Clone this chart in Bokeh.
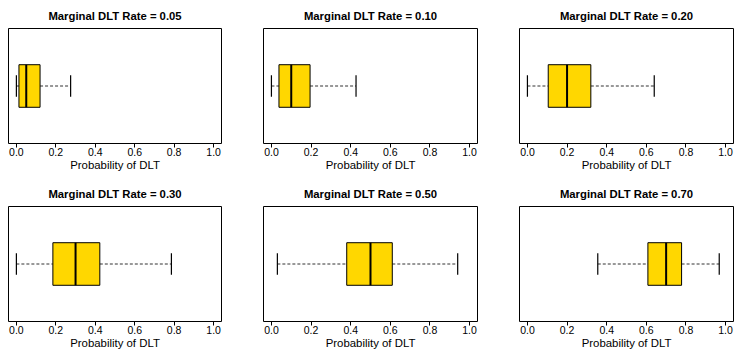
from bokeh.plotting import figure
from bokeh.layouts import column, row
from bokeh.models import Range1d, FixedTicker
from bokeh.embed import file_html
from bokeh.resources import INLINE

# ---- data ----
rates = ["0.05", "0.10", "0.20", "0.30", "0.50", "0.70"]
whisker_low = [0.0, 0.0, 0.0, 0.0, 0.03, 0.355]
q1 = [0.013, 0.038, 0.105, 0.185, 0.38, 0.608]
median = [0.05, 0.10, 0.20, 0.30, 0.50, 0.70]
q3 = [0.12, 0.195, 0.32, 0.423, 0.61, 0.778]
whisker_high = [0.275, 0.427, 0.64, 0.786, 0.94, 0.968]
tick_values = [0.0, 0.2, 0.4, 0.6, 0.8, 1.0]
tick_labels = ["0.0", "0.2", "0.4", "0.6", "0.8", "1.0"]
x_label = "Probability of DLT"

FONT = "Liberation Sans"
BOX_FILL = "#FFD700"

# layout (page has no margin in Bokeh's template)
frame_w = [213, 214, 214]
left_b = [8, 0, 0]
right_b = [42, 42, 2]
top_b = [28, 28]
bottom_b = [35, 28]
FRAME_H = 115


def make_panel(i):
    r, c = divmod(i, 3)
    p = figure(
        frame_width=frame_w[c],
        frame_height=FRAME_H,
        x_range=Range1d(-0.04, 1.04),
        y_range=Range1d(0.46, 1.54),
        y_axis_location=None,
        output_backend="svg",
        toolbar_location=None,
        min_border_left=left_b[c],
        min_border_right=right_b[c],
        min_border_top=top_b[r],
        min_border_bottom=bottom_b[r],
        title="Marginal DLT Rate = " + rates[i],
    )
    p.title.text_font = FONT
    p.title.text_font_size = "11.3px"
    p.title.text_font_style = "bold"
    p.title.text_color = "black"
    p.title.align = "center"
    p.title.standoff = 13
    p.title.offset = 0

    p.grid.visible = False
    p.outline_line_color = "black"
    p.outline_line_width = 1
    p.outline_line_alpha = 1
    p.background_fill_color = "white"
    p.border_fill_color = "white"

    ax = p.xaxis[0]
    ax.ticker = FixedTicker(ticks=tick_values)
    ax.major_label_overrides = {v: s for v, s in zip(tick_values, tick_labels)}
    ax.minor_tick_line_color = None
    ax.major_tick_out = 4
    ax.major_tick_in = 0
    ax.major_tick_line_color = "black"
    ax.axis_line_color = None
    ax.major_label_standoff = 0
    ax.major_label_text_font = FONT
    ax.major_label_text_font_size = "10.5px"
    ax.major_label_text_color = "black"
    ax.axis_label = x_label
    ax.axis_label_text_font = FONT
    ax.axis_label_text_font_size = "11.4px"
    ax.axis_label_text_font_style = "normal"
    ax.axis_label_text_color = "black"
    ax.axis_label_standoff = 0

    # whiskers (dashed)
    p.segment(x0=[whisker_low[i], q3[i]], y0=[1, 1], x1=[q1[i], whisker_high[i]], y1=[1, 1],
              line_color="#333333", line_width=1, line_dash="3 2")
    # staples
    p.segment(x0=[whisker_low[i], whisker_high[i]], y0=[0.9, 0.9],
              x1=[whisker_low[i], whisker_high[i]], y1=[1.1, 1.1],
              line_color="black", line_width=1.2)
    # box
    p.quad(left=[q1[i]], right=[q3[i]], bottom=[0.8], top=[1.2],
           fill_color=BOX_FILL, line_color="black", line_width=1)
    # median
    p.segment(x0=[median[i]], y0=[0.8], x1=[median[i]], y1=[1.2],
              line_color="black", line_width=2)
    return p


panels = [make_panel(i) for i in range(6)]
layout = column(row(*panels[:3]), row(*panels[3:]))

open("out.html", "w").write(file_html(layout, INLINE))
